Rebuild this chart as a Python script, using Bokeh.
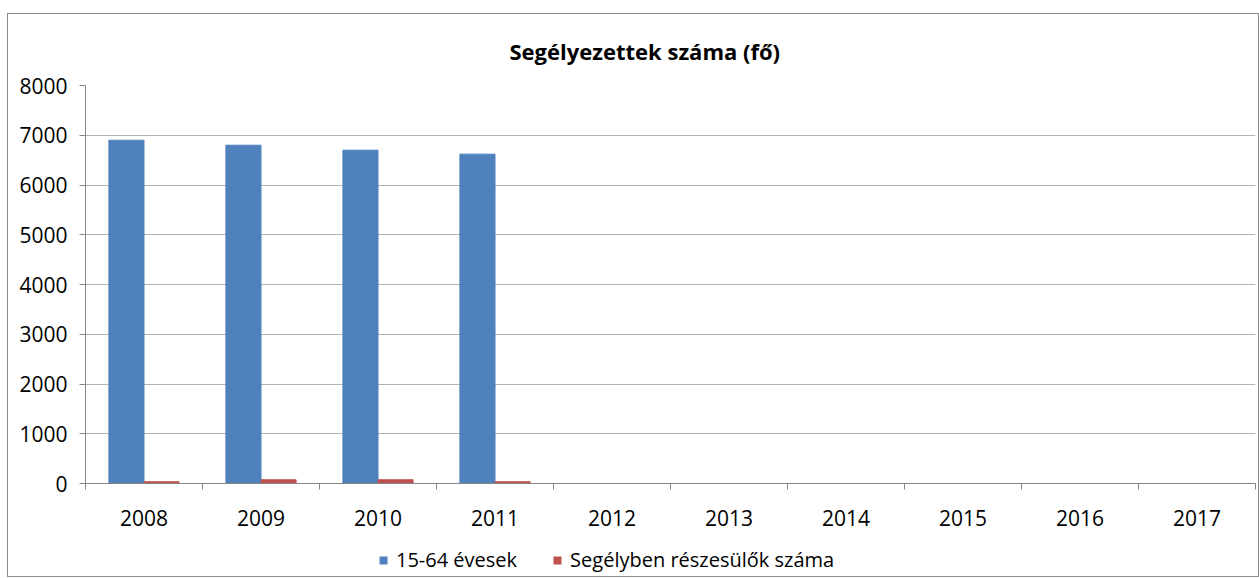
from bokeh.plotting import figure
from bokeh.models import Range1d, FixedTicker, ColumnDataSource, Legend, LegendItem, Title
from bokeh.layouts import column
from bokeh.embed import file_html
from bokeh.resources import INLINE

years = ["2008", "2009", "2010", "2011", "2012", "2013", "2014", "2015", "2016", "2017"]
evesek = [6900, 6800, 6700, 6620, 0, 0, 0, 0, 0, 0]
segelyben = [35, 75, 75, 35, 0, 0, 0, 0, 0, 0]
series_names = ["15-64 évesek", "Segélyben részesülők száma"]
title_text = "Segélyezettek száma (fő)"
colors = ["#4F81BD", "#C0504D"]
y_ticks = [0, 1000, 2000, 3000, 4000, 5000, 6000, 7000, 8000]

FONT = "Open Sans"

n = len(years)
centers = [i + 0.5 for i in range(n)]
boundaries = list(range(n + 1))

src = ColumnDataSource(dict(
    x1=[c - 0.15 for c in centers],
    x2=[c + 0.15 for c in centers],
    a=evesek,
    b=segelyben,
))

# Main chart
p = figure(width=1250, height=521, x_range=Range1d(0, n), y_range=Range1d(0, 8000),
           output_backend="svg", toolbar_location=None,
           min_border_left=77, min_border_right=3, min_border_top=70, min_border_bottom=52)
p.outline_line_color = None
p.background_fill_color = "white"

r1 = p.vbar(x="x1", top="a", width=0.3, source=src, color=colors[0])
r2 = p.vbar(x="x2", top="b", width=0.3, source=src, color=colors[1])

p.yaxis.ticker = FixedTicker(ticks=y_ticks)
p.yaxis.axis_line_color = "#868686"
p.yaxis.major_tick_line_color = "#868686"
p.yaxis.major_tick_in = 0
p.yaxis.major_tick_out = 6
p.yaxis.minor_tick_line_color = None
p.yaxis.major_label_standoff = 12
p.yaxis.major_label_text_font = FONT
p.yaxis.major_label_text_font_size = "21px"
p.yaxis.major_label_text_color = "black"

p.xaxis.ticker = FixedTicker(ticks=centers, minor_ticks=boundaries)
p.xaxis.major_label_overrides = {c: y for c, y in zip(centers, years)}
p.xaxis.axis_line_color = "#868686"
p.xaxis.major_tick_line_color = None
p.xaxis.major_tick_in = 0
p.xaxis.major_tick_out = 0
p.xaxis.minor_tick_line_color = "#868686"
p.xaxis.minor_tick_in = 0
p.xaxis.minor_tick_out = 6
p.xaxis.major_label_standoff = 20
p.xaxis.major_label_text_font = FONT
p.xaxis.major_label_text_font_size = "21px"
p.xaxis.major_label_text_color = "black"

p.xgrid.grid_line_color = None
p.ygrid.ticker = FixedTicker(ticks=y_ticks)
p.ygrid.grid_line_color = "#b3b3b3"
p.ygrid.grid_line_width = 1

t = Title(text=title_text, align="left", text_font=FONT,
          text_font_size="22px", text_font_style="bold", text_color="black",
          offset=424, standoff=39)
p.add_layout(t, "above")

# Legend strip
lg = figure(width=1250, height=41, x_range=Range1d(0, 1), y_range=Range1d(0, 1),
            output_backend="svg", toolbar_location=None,
            x_axis_type=None, y_axis_type=None,
            min_border_left=0, min_border_right=0, min_border_top=0, min_border_bottom=0)
lg.outline_line_color = None
lg.xgrid.grid_line_color = None
lg.ygrid.grid_line_color = None
hidden = ColumnDataSource(dict(x=[0.5], top=[0.5], bottom=[0.5]))
l1 = lg.vbar(x="x", top="top", bottom="bottom", width=0.01, source=hidden,
             fill_color=colors[0], line_color=None)
l2 = lg.vbar(x="x", top="top", bottom="bottom", width=0.01, source=hidden,
             fill_color=colors[1], line_color=None)
legend = Legend(items=[LegendItem(label=series_names[0], renderers=[l1]),
                       LegendItem(label=series_names[1], renderers=[l2])],
                orientation="horizontal", location=(293, 3),
                glyph_width=10, glyph_height=10, label_standoff=8, spacing=35,
                label_text_font=FONT, label_text_font_size="20px",
                label_text_color="black", border_line_color=None,
                background_fill_alpha=0, padding=0, margin=0)
lg.add_layout(legend)

layout = column(p, lg, spacing=0)
layout.styles = {"border": "1px solid #8c8c8c", "margin-top": "13px", "margin-left": "7px"}

open("out.html", "w").write(file_html(layout, INLINE))
